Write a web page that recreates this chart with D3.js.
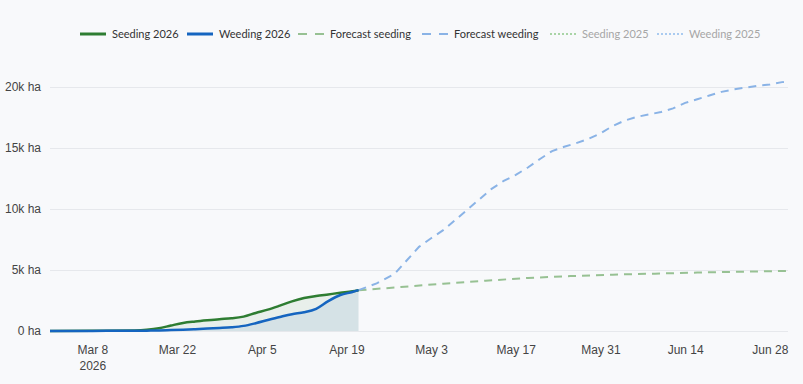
<!DOCTYPE html>
<html><head><meta charset="utf-8">
<script src="https://cdn.jsdelivr.net/npm/d3@7"></script>
<style>
html,body{margin:0;padding:0;background:#f8f9fb;}
svg{display:block;font-family:"Source Sans Pro",Lato,"Noto Sans",sans-serif;}
</style></head>
<body>
<svg id="chart" width="803" height="384"></svg>
<script>
// ---- data ----
const actualDates = ["2026-03-01","2026-03-08","2026-03-15","2026-03-17","2026-03-19","2026-03-21","2026-03-23","2026-03-25","2026-03-27","2026-03-29","2026-03-31","2026-04-02","2026-04-04","2026-04-06","2026-04-08","2026-04-10","2026-04-12","2026-04-14","2026-04-16","2026-04-18","2026-04-20","2026-04-21"];
const seeding2026 = [0,20,50,100,220,450,660,780,880,970,1040,1180,1480,1750,2080,2430,2700,2870,3000,3130,3250,3340];
const weeding2026 = [0,10,20,30,50,80,110,150,200,250,310,420,640,900,1150,1380,1530,1820,2450,2950,3200,3350];

const fcSeedDates = ["2026-04-21","2026-04-28","2026-05-05","2026-05-12","2026-05-19","2026-05-26","2026-06-02","2026-06-09","2026-06-16","2026-06-23","2026-07-01"];
const fcSeeding = [3340,3600,3880,4120,4350,4500,4620,4700,4790,4860,4930];

const fcWeedDates = ["2026-04-21","2026-04-24","2026-04-27","2026-04-29","2026-05-01","2026-05-03","2026-05-05","2026-05-07","2026-05-09","2026-05-11","2026-05-13","2026-05-15","2026-05-17","2026-05-19","2026-05-21","2026-05-23","2026-05-25","2026-05-27","2026-05-29","2026-05-31","2026-06-02","2026-06-04","2026-06-06","2026-06-08","2026-06-10","2026-06-12","2026-06-14","2026-06-16","2026-06-18","2026-06-20","2026-06-22","2026-06-24","2026-06-26","2026-06-28","2026-06-30","2026-07-01"];
const fcWeeding = [3350,3900,4700,5800,6900,7600,8270,9100,9950,10800,11650,12300,12800,13400,14100,14750,15100,15400,15750,16200,16800,17250,17550,17750,17950,18250,18700,19000,19300,19600,19800,19950,20100,20200,20400,20450];

const xTickDates = ["2026-03-08","2026-03-22","2026-04-05","2026-04-19","2026-05-03","2026-05-17","2026-05-31","2026-06-14","2026-06-28"];
const xTickLabels = ["Mar 8","Mar 22","Apr 5","Apr 19","May 3","May 17","May 31","Jun 14","Jun 28"];
const yTicks = [0,5000,10000,15000,20000];
const yTickLabels = ["0 ha","5k ha","10k ha","15k ha","20k ha"];
const legendNames = ["Seeding 2026","Weeding 2026","Forecast seeding","Forecast weeding","Seeding 2025","Weeding 2025"];

// ---- drawing ----
const parse = d3.timeParse("%Y-%m-%d");
const svg = d3.select("#chart");
const x = d3.scaleTime().domain([parse("2026-03-01"), parse("2026-07-01")]).range([50, 788]);
const y = d3.scaleLinear().domain([0, 20000]).range([331, 87]);

const C = {seed:"#2e7d32", weed:"#1565c0", fcSeed:"#97c193", fcWeed:"#8ab3e6", s25:"#a9d4a6", w25:"#aacbf0"};

// gridlines
const yAxis = d3.axisLeft(y).tickValues(yTicks).tickSize(-(788-50)).tickFormat((d,i)=>yTickLabels[i]);
const gy = svg.append("g").attr("transform","translate(50,0)").call(yAxis);
gy.select(".domain").remove();
gy.selectAll(".tick line").attr("stroke","#e6e8ec").attr("stroke-width",1);
gy.selectAll(".tick text").attr("x",-9).attr("fill","#444").style("font-size","12px");

const xAxis = d3.axisBottom(x).tickValues(xTickDates.map(parse)).tickSize(0).tickFormat((d,i)=>xTickLabels[i]);
const gx = svg.append("g").attr("transform","translate(0,331)").call(xAxis);
gx.select(".domain").remove();
gx.selectAll(".tick text").attr("y",14).attr("fill","#444").style("font-size","12px");
gx.select(".tick").append("text").attr("y",30).attr("dy","0.71em").attr("fill","#444")
  .style("font-size","12px").attr("text-anchor","middle").text("2026");

const act = actualDates.map((d,i)=>({d:parse(d), s:seeding2026[i], w:weeding2026[i]}));
const curve = d3.curveMonotoneX;

// areas
svg.append("path").datum(act)
  .attr("d", d3.area().x(d=>x(d.d)).y0(y(0)).y1(d=>y(d.s)).curve(curve))
  .attr("fill", C.seed).attr("fill-opacity",0.08);
svg.append("path").datum(act)
  .attr("d", d3.area().x(d=>x(d.d)).y0(y(0)).y1(d=>y(d.w)).curve(curve))
  .attr("fill", C.weed).attr("fill-opacity",0.09);

// forecast lines
const fcs = fcSeedDates.map((d,i)=>({d:parse(d), v:fcSeeding[i]}));
const fcw = fcWeedDates.map((d,i)=>({d:parse(d), v:fcWeeding[i]}));
const lineV = d3.line().x(d=>x(d.d)).y(d=>y(d.v));
svg.append("path").datum(fcs).attr("d", lineV).attr("fill","none")
  .attr("stroke",C.fcSeed).attr("stroke-width",2).attr("stroke-dasharray","8,6");
svg.append("path").datum(fcw).attr("d", lineV).attr("fill","none")
  .attr("stroke",C.fcWeed).attr("stroke-width",2).attr("stroke-dasharray","8,6");

// actual lines
svg.append("path").datum(act).attr("d", d3.line().x(d=>x(d.d)).y(d=>y(d.s)).curve(curve))
  .attr("fill","none").attr("stroke",C.seed).attr("stroke-width",2.5);
svg.append("path").datum(act).attr("d", d3.line().x(d=>x(d.d)).y(d=>y(d.w)).curve(curve))
  .attr("fill","none").attr("stroke",C.weed).attr("stroke-width",2.5);

// legend
const legendX = [80,187,298,422,550,657];
const styles = [
  {c:C.seed, dash:null, w:3, tc:"#333"},
  {c:C.weed, dash:null, w:3, tc:"#333"},
  {c:C.fcSeed, dash:"9,8", w:2, tc:"#333"},
  {c:C.fcWeed, dash:"9,8", w:2, tc:"#333"},
  {c:C.s25, dash:"2,2", w:2, tc:"#a6a6a6"},
  {c:C.w25, dash:"2,2", w:2, tc:"#a6a6a6"}
];
const lg = svg.append("g");
legendNames.forEach((n,i)=>{
  const g = lg.append("g").attr("transform",`translate(${legendX[i]},34)`);
  g.append("line").attr("x1",0).attr("x2",26).attr("y1",0).attr("y2",0)
   .attr("stroke",styles[i].c).attr("stroke-width",styles[i].w)
   .attr("stroke-dasharray",styles[i].dash);
  g.append("text").attr("x",32).attr("y",0).attr("dy","0.35em")
   .attr("fill",styles[i].tc).style("font-size","11px").text(n);
});
</script>
</body></html>
